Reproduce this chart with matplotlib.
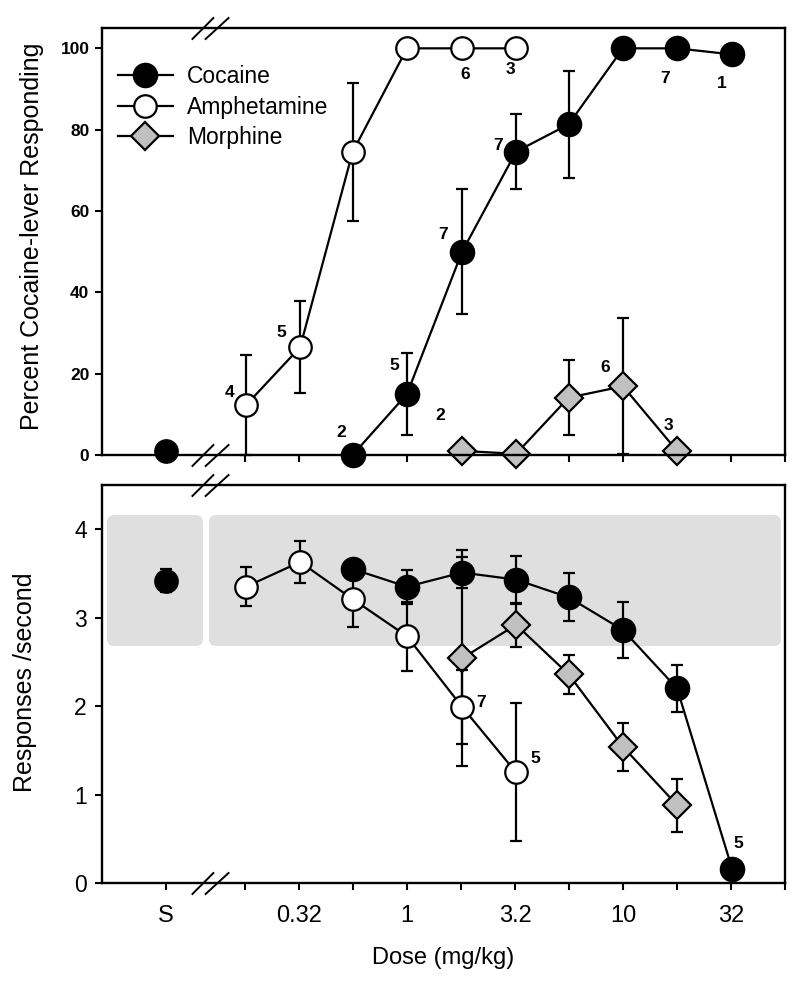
import numpy as np
import matplotlib
matplotlib.use("Agg")
import matplotlib.pyplot as plt
from matplotlib.path import Path
from matplotlib.patches import FancyBboxPatch
from matplotlib.ticker import FixedLocator, FixedFormatter, NullLocator
import matplotlib.transforms as mtransforms

plt.rcParams['font.family'] = ['Liberation Sans', 'DejaVu Sans']

# ---------------- data ----------------
saline_pos = 0.0765          # x position used for the "S" (saline) category
break_pos = 0.122            # x position of the axis break
saline_pct = 1.0
saline_rate = 3.42
saline_rate_err = 0.13

coc_doses = [0.56, 1.0, 1.8, 3.2, 5.6, 10.0, 17.8, 32.0]
coc_pct = [0.0, 15.0, 50.0, 74.6, 81.3, 100.0, 100.0, 98.5]
coc_pct_err = [0.0, 10.2, 15.4, 9.3, 13.1, 0.0, 0.0, 0.0]
coc_rate = [3.55, 3.35, 3.51, 3.43, 3.23, 2.86, 2.20, 0.16]
coc_rate_err = [0.10, 0.19, 0.18, 0.27, 0.27, 0.32, 0.27, 0.11]
coc_n_top = ["2", "5", "7", "7", None, None, "7", "1"]
coc_n_bot = [None, None, None, None, None, None, None, "5"]

amph_doses = [0.18, 0.32, 0.56, 1.0, 1.8, 3.2]
amph_pct = [12.3, 26.5, 74.5, 100.0, 100.0, 100.0]
amph_pct_err = [12.4, 11.3, 17.0, 0.0, 0.0, 0.0]
amph_rate = [3.35, 3.63, 3.21, 2.79, 1.99, 1.25]
amph_rate_err = [0.22, 0.24, 0.32, 0.39, 0.42, 0.78]
amph_n_top = ["4", "5", None, None, "6", "3"]
amph_n_bot = [None, None, None, None, "7", "5"]

morph_doses = [1.8, 3.2, 5.6, 10.0, 17.8]
morph_pct = [1.0, 0.3, 14.1, 16.9, 1.0]
morph_pct_err = [0.0, 0.0, 9.2, 16.7, 0.0]
morph_rate = [2.54, 2.92, 2.36, 1.54, 0.88]
morph_rate_err = [1.22, 0.25, 0.22, 0.27, 0.30]
morph_n_top = ["2", None, None, "6", "3"]

band_low, band_high = 2.68, 4.16

x_tick_labels = {"S": saline_pos, "0.32": 0.32, "1": 1.0, "3.2": 3.2, "10": 10.0, "32": 32.0}

# ---------------- layout / style ----------------
W, H = 799, 985
fig = plt.figure(figsize=(W / 100, H / 100), dpi=100)
ax1 = fig.add_axes([102 / W, 1 - 455 / H, 683 / W, 427 / H])
ax2 = fig.add_axes([102 / W, 1 - 883 / H, 683 / W, 398 / H])

xlim = (10 ** -1.412, 10 ** 1.75)
major_ticks = [10 ** (-0.75 + 0.25 * k) for k in range(11)]

ms_circle = 16.8
ms_diam = 13.8
mew = 1.6
lw = 1.6
cap = 4.5
ecol = 'black'

styles = {
    'coc': dict(marker='o', ms=ms_circle, mfc='black', mec='black'),
    'amph': dict(marker='o', ms=ms_circle - 0.6, mfc='white', mec='black'),
    'morph': dict(marker='D', ms=ms_diam, mfc='#c0c0c0', mec='black'),
}


def series(ax, x, y, err, key, z, label=None):
    ax.errorbar(x, y, yerr=err, fmt='none', ecolor=ecol, elinewidth=lw,
                capsize=cap, capthick=lw, zorder=z, clip_on=False)
    return ax.plot(x, y, '-', color='black', lw=lw, mew=mew, zorder=z + 0.5,
                   clip_on=False, label=label, **styles[key])[0]


def nlabels(ax, x, y, labels, offsets):
    for xi, yi, lab, off in zip(x, y, labels, offsets):
        if lab is None:
            continue
        ax.annotate(lab, (xi, yi), xytext=(off[0] * 0.72, off[1] * 0.72),
                    textcoords='offset points', ha='center', va='center',
                    fontsize=12.5, fontweight='bold', zorder=10, annotation_clip=False)


# ---------- top panel ----------
h_m = series(ax1, morph_doses, morph_pct, morph_pct_err, 'morph', 2, 'Morphine')
h_a = series(ax1, amph_doses, amph_pct, amph_pct_err, 'amph', 3, 'Amphetamine')
h_c = series(ax1, coc_doses, coc_pct, coc_pct_err, 'coc', 4, 'Cocaine')
ax1.plot([saline_pos], [saline_pct], linestyle='none', zorder=4.5, clip_on=False, **styles['coc'])

nlabels(ax1, coc_doses, coc_pct, coc_n_top,
        [(-11, 22), (-13, 28), (-19, 17), (-18, 6), None, None, (-12, -30), (-10, -29)])
nlabels(ax1, amph_doses, amph_pct, amph_n_top,
        [(-17, 12), (-19, 15), None, None, (3, -26), (-6, -21)])
nlabels(ax1, morph_doses, morph_pct, morph_n_top,
        [(-22, 35), None, None, (-18, 19), (-9, 25)])

ax1.set_xscale('log')
ax1.set_xlim(*xlim)
ax1.set_ylim(0, 105)
ax1.xaxis.set_major_locator(FixedLocator(major_ticks))
ax1.xaxis.set_major_formatter(FixedFormatter([''] * len(major_ticks)))
ax1.xaxis.set_minor_locator(NullLocator())
ax1.set_yticks([0, 20, 40, 60, 80, 100])
ax1.set_yticklabels(['0', '20', '40', '60', '80', '100'], fontsize=12.5, fontweight='bold')

leg = ax1.legend(handles=[h_c, h_a, h_m], loc='upper left', bbox_to_anchor=(0.0234, 0.913),
                 frameon=False, fontsize=16.5, handlelength=2.4, handletextpad=0.6,
                 labelspacing=0.33, borderpad=0, borderaxespad=0)

# ---------- bottom panel ----------
series(ax2, morph_doses, morph_rate, morph_rate_err, 'morph', 2)
series(ax2, amph_doses, amph_rate, amph_rate_err, 'amph', 3)
series(ax2, coc_doses, coc_rate, coc_rate_err, 'coc', 4)
ax2.errorbar([saline_pos], [saline_rate], yerr=[saline_rate_err], fmt='none', ecolor=ecol,
             elinewidth=lw, capsize=cap, capthick=lw, zorder=4)
ax2.plot([saline_pos], [saline_rate], linestyle='none', zorder=4.5, clip_on=False, **styles['coc'])

nlabels(ax2, amph_doses, amph_rate, amph_n_bot,
        [None, None, None, None, (19, 4), (19, 14)])
nlabels(ax2, coc_doses, coc_rate, coc_n_bot,
        [None] * 7 + [(6, 25)])

ax2.set_xscale('log')
ax2.set_xlim(*xlim)
ax2.set_ylim(0, 4.5)
ticks2 = [saline_pos] + major_ticks
labels2 = []
for t in ticks2:
    lab = ''
    for k, v in x_tick_labels.items():
        if abs(np.log10(v) - np.log10(t)) < 0.02:
            lab = k
    labels2.append(lab)
ax2.xaxis.set_major_locator(FixedLocator(ticks2))
ax2.xaxis.set_major_formatter(FixedFormatter(labels2))
ax2.xaxis.set_minor_locator(NullLocator())
ax2.set_yticks([0, 1, 2, 3, 4])
ax2.set_yticklabels(['0', '1', '2', '3', '4'], fontsize=16.5)
for lab in ax2.get_xticklabels():
    lab.set_fontsize(17)

# gray bands (rounded) in axes-fraction x, data y
ymin2, ymax2 = ax2.get_ylim()
fy0 = (band_low - ymin2) / (ymax2 - ymin2)
fy1 = (band_high - ymin2) / (ymax2 - ymin2)
aspect = 683 / 398
for fx0, fx1 in [(5 / 683, 101 / 683), (107 / 683, 679 / 683)]:
    p = FancyBboxPatch((fx0, fy0), fx1 - fx0, fy1 - fy0,
                       boxstyle='round,pad=0,rounding_size=%f' % (7 / 683),
                       mutation_aspect=aspect, transform=ax2.transAxes,
                       facecolor='#dfdfdf', edgecolor='none', zorder=0.5)
    ax2.add_patch(p)

# spines / ticks
for ax in (ax1, ax2):
    for s in ax.spines.values():
        s.set_linewidth(1.7)
    ax.tick_params(axis='both', direction='out', length=5, width=1.5, top=False, right=False)
ax1.tick_params(axis='y', pad=4)
ax2.tick_params(axis='y', pad=6)
ax2.tick_params(axis='x', pad=11)

# axis-break marks
brk = Path([(-18.5, -11), (3.5, 11), (-5.5, -11), (18.5, 11)],
           [Path.MOVETO, Path.LINETO, Path.MOVETO, Path.LINETO])
for ax in (ax1, ax2):
    tr = mtransforms.blended_transform_factory(ax.transData, ax.transAxes)
    ax.plot([break_pos, break_pos], [0, 1], linestyle='none', marker=brk, ms=27,
            mfc='none', mec='black', mew=1.4, transform=tr, clip_on=False, zorder=12)

# labels
fig.text(32 / W, 1 - 236 / H, 'Percent Cocaine-lever Responding', rotation=90,
         ha='center', va='center', fontsize=18)
fig.text(25 / W, 1 - 682 / H, 'Responses /second', rotation=90,
         ha='center', va='center', fontsize=18)
fig.text(443 / W, 1 - 958 / H, 'Dose (mg/kg)', ha='center', va='center', fontsize=17)

fig.savefig('out.png', dpi=100)
